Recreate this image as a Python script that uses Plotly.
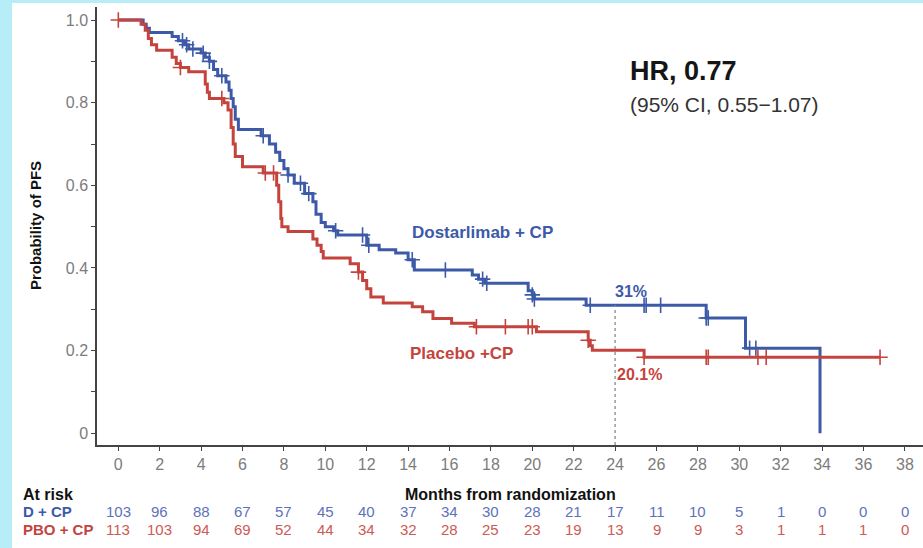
import plotly.graph_objects as go

# Kaplan-Meier steps: event times (months) and survival after each drop
dost_t = [0, 1.2, 1.35, 1.5, 2.6, 2.9, 3.2, 3.4, 4.0, 4.2, 4.4, 4.6, 4.8, 5.2, 5.35, 5.45, 5.55,
          5.65, 5.8, 6.9, 7.3, 7.6, 7.8, 8.0, 8.2, 8.5, 9.0, 9.4, 9.55, 9.8, 10.0, 10.4, 10.6,
          12.0, 12.6, 13.4, 14.0, 14.3, 17.1, 17.4, 17.7, 19.8, 20.0, 20.1, 22.6, 28.4, 30.3, 33.9]
dost_s = [1.0, 0.99, 0.98, 0.97, 0.96, 0.95, 0.94, 0.93, 0.92, 0.91, 0.90, 0.88, 0.865, 0.85,
          0.83, 0.81, 0.79, 0.76, 0.735, 0.72, 0.70, 0.68, 0.66, 0.64, 0.625, 0.605, 0.58, 0.56,
          0.53, 0.51, 0.50, 0.49, 0.48, 0.455, 0.444, 0.436, 0.42, 0.395, 0.383, 0.373, 0.363,
          0.345, 0.335, 0.325, 0.31, 0.279, 0.206, 0.0]

plac_t = [0, 1.1, 1.3, 1.45, 1.6, 1.85, 2.6, 2.8, 3.0, 3.4, 4.2, 4.3, 4.4, 5.1, 5.3, 5.45, 5.55,
          5.65, 6.0, 7.0, 7.65, 7.75, 7.85, 7.9, 8.2, 9.4, 9.6, 9.8, 9.9, 11.2, 11.6, 11.8, 12.0,
          12.2, 12.8, 14.2, 14.7, 15.2, 16.1, 17.2, 20.2, 22.7, 22.8, 22.9, 25.4, 36.8]
plac_s = [1.0, 0.99, 0.975, 0.955, 0.94, 0.927, 0.91, 0.895, 0.885, 0.875, 0.845, 0.825, 0.81,
          0.80, 0.782, 0.74, 0.70, 0.67, 0.645, 0.63, 0.60, 0.56, 0.52, 0.50, 0.488, 0.47, 0.455,
          0.44, 0.424, 0.41, 0.39, 0.37, 0.35, 0.33, 0.315, 0.306, 0.294, 0.278, 0.266, 0.258,
          0.246, 0.225, 0.212, 0.201, 0.184, 0.184]

# Censoring times
dost_cens = [3.1, 3.3, 3.6, 4.1, 4.4, 5.0, 7.0, 8.2, 8.8, 9.2, 10.5, 11.8, 12.1, 14.2, 15.8,
             17.6, 17.8, 20.0, 20.1, 22.8, 25.4, 25.5, 26.2, 28.4, 28.5, 30.5, 30.8]
plac_cens = [0.0, 3.0, 5.0, 7.1, 7.5, 11.6, 17.3, 18.7, 19.8, 20.0, 22.7, 25.4, 28.4, 28.5,
             30.9, 31.3, 36.8]

# Numbers at risk
months = list(range(0, 40, 2))
risk_dost = [103, 96, 88, 67, 57, 45, 40, 37, 34, 30, 28, 21, 17, 11, 10, 5, 1, 0, 0, 0]
risk_plac = [113, 103, 94, 69, 52, 44, 34, 32, 28, 25, 23, 19, 13, 9, 9, 3, 1, 1, 1, 0]

landmark = 24
landmark_labels = ["31%", "20.1%"]

y_ticks = [0, 0.1, 0.2, 0.3, 0.4, 0.5, 0.6, 0.7, 0.8, 0.9, 1.0]
y_ticktext = ["0", "", "0.2", "", "0.4", "", "0.6", "", "0.8", "", "1.0"]

BLUE = "#3d5aa8"
RED = "#c4443d"
BLUE_TXT = "#5d72bb"
RED_TXT = "#cc5a55"
GRAY = "#7c7c7c"
FONT = "Liberation Sans, Arial, sans-serif"


def surv_at(times, surv, t):
    val = surv[0]
    for ti, si in zip(times, surv):
        if ti <= t:
            val = si
    return val


XMIN, XMAX = -1.03, 38.875
YMIN, YMAX = -0.0283, 1.0315

fig = go.Figure()

for times, surv, cens, col, name in [
    (dost_t, dost_s, dost_cens, BLUE, "Dostarlimab + CP"),
    (plac_t, plac_s, plac_cens, RED, "Placebo + CP"),
]:
    fig.add_trace(go.Scatter(x=times, y=surv, mode="lines", line=dict(color=col, width=3, shape="hv"),
                             name=name, showlegend=False, hoverinfo="skip"))
    fig.add_trace(go.Scatter(x=cens, y=[surv_at(times, surv, c) for c in cens], mode="markers",
                             marker=dict(symbol="cross-thin", size=11, line=dict(color=col, width=1.6)),
                             showlegend=False, hoverinfo="skip"))

# landmark line at 24 months
fig.add_shape(type="line", x0=landmark, x1=landmark, y0=YMIN, y1=surv_at(dost_t, dost_s, landmark),
              xref="x", yref="y", line=dict(color="#8a8a8a", width=1.3, dash="dot"))

# white panel on cyan page
fig.add_shape(type="rect", xref="paper", yref="paper", x0=-0.1029, x1=1.01, y0=-0.236, y1=1.0091,
              fillcolor="white", line=dict(width=0), layer="below")


def label(x, y, text, size, color, xref="x", yref="y", xanchor="center", **kw):
    return dict(x=x, y=y, xref=xref, yref=yref, text=text, showarrow=False, xanchor=xanchor,
                yanchor="middle", font=dict(family=FONT, size=size, color=color), **kw)


ann = [
    label(24.6, 0.877, "<b>HR, 0.77</b>", 27, "#151515", xanchor="left"),
    label(24.6, 0.795, "(95% CI, 0.55\u22121.07)", 21, "#333333", xanchor="left"),
    label(17.57, 0.487, "<b>Dostarlimab + CP</b>", 17, BLUE),
    label(16.6, 0.194, "<b>Placebo +CP</b>", 17, RED),
    label(24.77, 0.344, "<b>" + landmark_labels[0] + "</b>", 16, BLUE),
    label(25.2, 0.143, "<b>" + landmark_labels[1] + "</b>", 16, RED),
    # axis titles
    label(-0.075, 0.5, "<b>Probability of PFS</b>", 15, "#111111", xref="paper", yref="paper",
          textangle=-90),
    label(0.5, -0.112, "<b>Months from randomization</b>", 16, "#111111", xref="paper", yref="paper"),
    # at-risk table row headers
    label(-0.0925, -0.112, "<b>At risk</b>", 16, "#111111", xref="paper", yref="paper", xanchor="left"),
    label(-0.0925, -0.1507, "<b>D + CP</b>", 15, BLUE, xref="paper", yref="paper", xanchor="left"),
    label(-0.0925, -0.194, "<b>PBO + CP</b>", 15, RED, xref="paper", yref="paper", xanchor="left"),
]
for m, a, b in zip(months, risk_dost, risk_plac):
    ann.append(label(m, -0.1507, str(a), 15, BLUE_TXT, yref="paper"))
    ann.append(label(m, -0.194, str(b), 15, RED_TXT, yref="paper"))

fig.update_layout(
    width=923, height=548,
    margin=dict(l=97, r=0, t=7, b=103),
    paper_bgcolor="#b6edf7",
    plot_bgcolor="white",
    annotations=ann,
    xaxis=dict(range=[XMIN, XMAX], tickvals=months, ticks="outside", ticklen=4, tickwidth=1.3,
               tickcolor="#444444", showline=True, linecolor="#444444", linewidth=1.5,
               showgrid=False, zeroline=False, tickfont=dict(family=FONT, size=16, color=GRAY)),
    yaxis=dict(range=[YMIN, YMAX], tickvals=y_ticks, ticktext=y_ticktext, ticks="outside", ticklen=4,
               tickwidth=1.3, tickcolor="#444444", showline=True, linecolor="#444444", linewidth=1.5,
               showgrid=False, zeroline=False, tickfont=dict(family=FONT, size=16, color=GRAY)),
)

fig.write_html("out.html")
